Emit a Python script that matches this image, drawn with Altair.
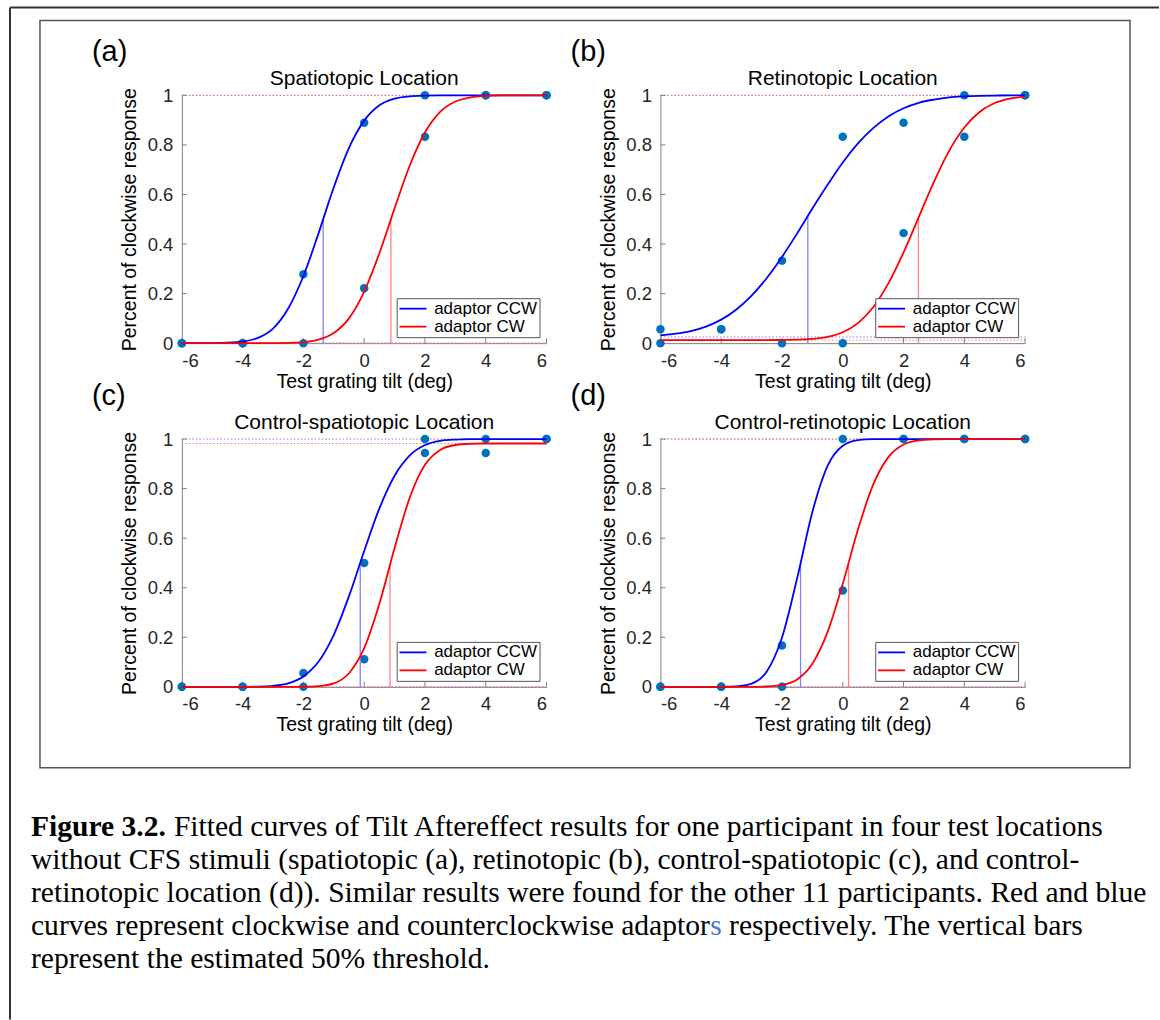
import altair as alt
import pandas as pd

SANS = "Liberation Sans"
SERIF = "Liberation Serif"
BLUE, RED, DOT = "#0000FF", "#FF0000", "#0072BD"
LIGHT_BLUE, LIGHT_RED = "#8080ff", "#ff8080"
AXIS_GRAY = "#7f7f7f"
W, H = 365, 248

# ---------------- data ----------------
X_TICKS = [-6, -4, -2, 0, 2, 4, 6]
Y_TICKS = [0, 0.2, 0.4, 0.6, 0.8, 1]
SERIES = ["adaptor CCW", "adaptor CW"]
CURVE_X = [-6.0, -5.5, -5.0, -4.5, -4.0, -3.5, -3.0, -2.5, -2.0, -1.5, -1.0, -0.5,
           0.0, 0.5, 1.0, 1.5, 2.0, 2.5, 3.0, 3.5, 4.0, 4.5, 5.0, 5.5, 6.0]

PANEL_LETTERS = ["(a)", "(b)", "(c)", "(d)"]
PANEL_TITLES = ["Spatiotopic Location", "Retinotopic Location",
                "Control-spatiotopic Location", "Control-retinotopic Location"]

# observed proportion of clockwise responses at X_TICKS
OBS_CCW = [
    [0, 0, 0.278, 0.889, 1, 1, 1],
    [0.056, 0.056, 0.333, 0.833, 0.889, 1, 1],
    [0, 0, 0.056, 0.5, 1, 1, 1],
    [0, 0, 0.167, 1, 1, 1, 1],
]
OBS_CW = [
    [0, 0, 0, 0.222, 0.833, 1, 1],
    [0, 0.056, 0, 0, 0.444, 0.833, 1],
    [0, 0, 0, 0.111, 0.944, 0.944, 1],
    [0, 0, 0, 0.389, 1, 1, 1],
]

# fitted curves read at CURVE_X
FIT_CCW = [
    [0, 0, 0.0003, 0.0015, 0.006, 0.021, 0.059, 0.140, 0.271, 0.444, 0.629, 0.788,
     0.898, 0.960, 0.987, 0.996, 0.999, 1, 1, 1, 1, 1, 1, 1, 1],
    [0.031, 0.038, 0.049, 0.067, 0.095, 0.136, 0.192, 0.263, 0.348, 0.443, 0.543, 0.639,
     0.729, 0.806, 0.868, 0.915, 0.948, 0.970, 0.983, 0.992, 0.996, 0.998, 0.999, 1, 1],
    [0, 0, 0, 0, 0.0002, 0.001, 0.004, 0.014, 0.042, 0.102, 0.210, 0.366,
     0.548, 0.720, 0.852, 0.934, 0.976, 0.993, 0.998, 0.9996, 1, 1, 1, 1, 1],
    [0, 0, 0, 0, 0.0001, 0.002, 0.013, 0.062, 0.199, 0.439, 0.706, 0.892,
     0.973, 0.996, 0.9995, 1, 1, 1, 1, 1, 1, 1, 1, 1, 1],
]
FIT_CW = [
    [0, 0, 0, 0, 0, 0, 0.0002, 0.001, 0.004, 0.014, 0.041, 0.100,
     0.208, 0.363, 0.544, 0.717, 0.850, 0.933, 0.975, 0.992, 0.998, 0.9996, 1, 1, 1],
    [0.012, 0.012, 0.012, 0.012, 0.012, 0.012, 0.012, 0.012, 0.013, 0.014, 0.017, 0.025,
     0.044, 0.081, 0.145, 0.241, 0.366, 0.509, 0.651, 0.776, 0.870, 0.933, 0.969, 0.987, 0.995],
    [0, 0, 0, 0, 0, 0, 0, 0, 0.0004, 0.003, 0.014, 0.055,
     0.156, 0.335, 0.560, 0.764, 0.896, 0.956, 0.976, 0.981, 0.982, 0.982, 0.982, 0.982, 0.982],
    [0, 0, 0, 0, 0, 0, 0, 0.0014, 0.0075, 0.030, 0.093, 0.222,
     0.416, 0.635, 0.816, 0.927, 0.978, 0.995, 0.999, 1, 1, 1, 1, 1, 1],
]

# estimated 50% thresholds (x) and the curve height there
THRESH_X = [[-1.35, 0.88], [-1.15, 2.49], [-0.13, 0.85], [-1.39, 0.19]]
THRESH_TOP = [[0.5, 0.5], [0.512, 0.506], [0.5, 0.491], [0.5, 0.5]]
# guess (lower) and 1-lapse (upper) asymptotes
LOWER = [[0, 0], [0.025, 0.012], [0, 0], [0, 0]]
UPPER = [[1, 1], [1, 1], [1, 0.982], [1, 1]]

CAPTION_BOLD = "Figure 3.2."
CAPTION_LINES = [
    "Fitted curves of Tilt Aftereffect results for one participant in four test locations",
    "without CFS stimuli (spatiotopic (a), retinotopic (b), control-spatiotopic (c), and control-",
    "retinotopic location (d)). Similar results were found for the other 11 participants. Red and blue",
    "curves represent clockwise and counterclockwise adaptor",
    "represent the estimated 50% threshold.",
]
CAPTION_BLUE = "s"
CAPTION_TAIL = "respectively. The vertical bars"

# caption layout (Times metrics, in em)
CAP_FS = 29.6
CAP_X = -151
CAP_Y0 = 741
CAP_DY = 33
BOLD_EM = 4.833
S_EM = 22.965
TAIL_EM = 23.604

ONE = pd.DataFrame({"k": [0]})


def panel(i):
    xs = alt.Scale(domain=[-6, 6], nice=False, zero=False)
    ys = alt.Scale(domain=[0, 1], nice=False, zero=False)
    cs = alt.Scale(domain=SERIES, range=[BLUE, RED])
    ls = alt.Scale(domain=SERIES, range=[LIGHT_BLUE, LIGHT_RED])
    xaxis = alt.Axis(title="Test grating tilt (deg)", values=X_TICKS, labelExpr="datum.value + ''",
                     ticks=False, tickSize=0, grid=False, domainColor=AXIS_GRAY, labelPadding=8,
                     labelBaseline="top", titleX=W / 2, titleY=44, titleBaseline="alphabetic",
                     titleAlign="center")
    yaxis = alt.Axis(title="Percent of clockwise response", values=Y_TICKS, labelExpr="datum.value + ''",
                     ticks=False, tickSize=0, grid=False, domainColor=AXIS_GRAY, labelPadding=9,
                     titleX=-46, titleY=H / 2, titleBaseline="alphabetic", titleAlign="center")

    def X(f):
        return alt.X(f, type="quantitative", scale=xs, axis=xaxis)

    def Y(f):
        return alt.Y(f, type="quantitative", scale=ys, axis=yaxis)

    curves = pd.DataFrame({"x": CURVE_X + CURVE_X, "p": FIT_CCW[i] + FIT_CW[i],
                           "series": [SERIES[0]] * len(CURVE_X) + [SERIES[1]] * len(CURVE_X)})
    obs = pd.DataFrame({"x": X_TICKS + X_TICKS, "p": OBS_CCW[i] + OBS_CW[i]})
    thr = pd.DataFrame({"x": THRESH_X[i], "b": [0, 0], "t": THRESH_TOP[i], "series": SERIES})
    asy = pd.DataFrame({"yv": [LOWER[i][0], UPPER[i][0], LOWER[i][1], UPPER[i][1]],
                        "series": [SERIES[0], SERIES[0], SERIES[1], SERIES[1]]})
    yt = pd.DataFrame({"v": Y_TICKS})
    xt = pd.DataFrame({"v": X_TICKS})

    asym = alt.Chart(asy).mark_rule(strokeDash=[1.5, 2], strokeWidth=1).encode(
        y=Y("yv"), x=alt.value(0), x2=alt.value(W),
        stroke=alt.Stroke("series:N", scale=ls, legend=None))
    yticks = alt.Chart(yt).mark_rule(color=AXIS_GRAY, strokeWidth=1).encode(
        y=Y("v"), x=alt.value(0), x2=alt.value(5))
    xticks = alt.Chart(xt).mark_rule(color=AXIS_GRAY, strokeWidth=1).encode(
        x=X("v"), y=alt.value(H), y2=alt.value(H - 5))
    points = alt.Chart(obs).mark_circle(size=72, color=DOT, opacity=1).encode(x=X("x"), y=Y("p"))
    thresh = alt.Chart(thr).mark_rule(strokeWidth=1.3).encode(
        x=X("x"), y=Y("b"), y2=alt.Y2("t"),
        stroke=alt.Stroke("series:N", scale=ls, legend=None))
    legend = alt.Legend(title=None, orient="none", legendX=215, legendY=203, direction="vertical",
                        symbolType="M-2,0H2", symbolSize=182, symbolStrokeWidth=1.8,
                        symbolOffset=5.85, labelOffset=12.7, labelFont=SANS, labelFontSize=17,
                        labelColor="black", strokeColor="#555555", fillColor="white",
                        padding=2, rowPadding=0, labelLimit=300)
    lines = alt.Chart(curves).mark_line(interpolate="monotone", strokeWidth=1.8).encode(
        x=X("x"), y=Y("p"), color=alt.Color("series:N", scale=cs, legend=legend))
    title = alt.Chart(ONE).mark_text(font=SANS, fontSize=21, align="center", baseline="alphabetic",
                                     color="black").encode(
        x=alt.value(W / 2), y=alt.value(-10), text=alt.value(PANEL_TITLES[i]))
    letter = alt.Chart(ONE).mark_text(font=SANS, fontSize=29, align="left", baseline="alphabetic",
                                      color="black").encode(
        x=alt.value(-90), y=alt.value(-34), text=alt.value(PANEL_LETTERS[i]))

    layers = [asym, yticks, xticks, points, thresh, lines, title, letter]

    if i == 0:
        outer_top = alt.Chart(ONE).mark_rule(color="#333333", strokeWidth=2).encode(
            x=alt.value(-172), x2=alt.value(978), y=alt.value(-88))
        outer_left = alt.Chart(ONE).mark_rule(color="#333333", strokeWidth=2).encode(
            x=alt.value(-172), y=alt.value(-88), y2=alt.value(925))
        box = alt.Chart(ONE).mark_rect(fillOpacity=0, stroke="#555555", strokeWidth=1.5).encode(
            x=alt.value(-142), x2=alt.value(949), y=alt.value(-75), y2=alt.value(673))
        layers += [outer_top, outer_left, box]
        cap = []
        cap.append(alt.Chart(ONE).mark_text(font=SERIF, fontSize=CAP_FS, fontWeight="bold", align="left",
                                            baseline="alphabetic", color="black").encode(
            x=alt.value(CAP_X), y=alt.value(CAP_Y0), text=alt.value(CAPTION_BOLD)))
        for k, line in enumerate(CAPTION_LINES):
            x0 = CAP_X + (BOLD_EM * CAP_FS if k == 0 else 0)
            cap.append(alt.Chart(ONE).mark_text(font=SERIF, fontSize=CAP_FS, align="left",
                                                baseline="alphabetic", color="black").encode(
                x=alt.value(x0), y=alt.value(CAP_Y0 + k * CAP_DY), text=alt.value(line)))
        cap.append(alt.Chart(ONE).mark_text(font=SERIF, fontSize=CAP_FS, align="left",
                                            baseline="alphabetic", color="#4a78c8").encode(
            x=alt.value(CAP_X + S_EM * CAP_FS), y=alt.value(CAP_Y0 + 3 * CAP_DY), text=alt.value(CAPTION_BLUE)))
        cap.append(alt.Chart(ONE).mark_text(font=SERIF, fontSize=CAP_FS, align="left",
                                            baseline="alphabetic", color="black").encode(
            x=alt.value(CAP_X + TAIL_EM * CAP_FS), y=alt.value(CAP_Y0 + 3 * CAP_DY), text=alt.value(CAPTION_TAIL)))
        layers += cap

    return alt.layer(*layers).properties(width=W, height=H)


panels = [panel(i) for i in range(4)]

chart = alt.concat(*panels, columns=2, spacing=alt.RowColnumber(row=96, column=114), bounds="flush"
                   ).resolve_legend(color="independent").configure_view(stroke=None).configure_axis(
    labelFont=SANS, titleFont=SANS, labelFontSize=18.5, titleFontSize=19.5, titleFontWeight="normal",
    labelColor="#262626", titleColor="black"
).properties(padding={"left": 9, "top": 6, "right": 0, "bottom": 0}, background="white")

chart.save("out.html", embed_options={"renderer": "svg", "actions": False})
